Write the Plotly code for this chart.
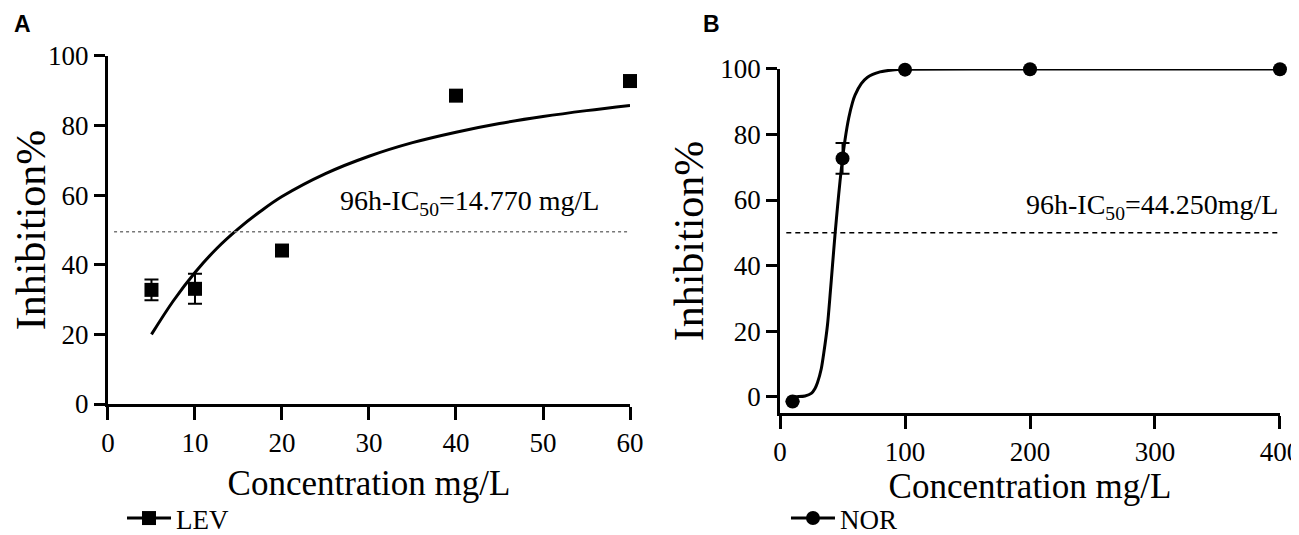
import plotly.graph_objects as go

# LEV data (panel A)
lev_conc = [5, 10, 20, 40, 60]
lev_inhib = [32.8, 33.1, 44.1, 88.6, 92.8]
lev_err = [3.0, 4.3, 0, 0, 0]
lev_fit_x = [5, 7.5, 10, 12.5, 15, 17.5, 20, 25, 30, 35, 40, 45, 50, 55, 60]
lev_fit_y = [20.0, 29.6, 37.8, 44.7, 50.4, 55.3, 59.6, 66.2, 71.2, 75.1, 78.1, 80.6, 82.6, 84.3, 85.8]

# NOR data (panel B)
nor_conc = [10, 50, 100, 200, 400]
nor_inhib = [-1.5, 72.7, 99.8, 99.9, 99.9]
nor_err = [0, 4.7, 0, 0, 0]
nor_fit_x = [10, 15, 20, 25, 28, 30, 33, 35, 38, 40, 42, 44, 46, 48, 50, 52, 55, 58, 60, 65, 70, 80, 90, 100, 200, 400]
nor_fit_y = [0.0, 0.0, 0.2, 1.0, 2.5, 4.3, 8.5, 13.3, 22.0, 30.8, 40.2, 49.5, 58.0, 65.8, 72.6, 78.4, 85.1, 89.8, 92.0, 95.5, 97.5, 99.1, 99.7, 99.9, 100, 100]

serif = "Liberation Serif"
fig = go.Figure()

# Panel A
fig.add_trace(go.Scatter(x=lev_fit_x, y=lev_fit_y, mode="lines", line=dict(color="black", width=3, shape="spline"),
                         showlegend=False, xaxis="x", yaxis="y", hoverinfo="skip"))
fig.add_trace(go.Scatter(x=lev_conc, y=lev_inhib, mode="markers", showlegend=False,
                         marker=dict(symbol="square", size=14, color="black"),
                         error_y=dict(type="data", array=lev_err, color="black", thickness=2, width=7),
                         cliponaxis=False, xaxis="x", yaxis="y"))
fig.add_trace(go.Scatter(x=[0.7, 60], y=[49.5, 49.5], mode="lines", line=dict(color="#777777", width=1.5, dash="dot"),
                         showlegend=False, xaxis="x", yaxis="y", hoverinfo="skip"))
# legend entry (line + symbol, as in the original)
fig.add_trace(go.Scatter(x=[None], y=[None], mode="lines+markers", name="LEV",
                         line=dict(color="black", width=3), marker=dict(symbol="square", size=14, color="black"),
                         xaxis="x", yaxis="y", legend="legend"))

# Panel B
fig.add_trace(go.Scatter(x=nor_fit_x, y=nor_fit_y, mode="lines", line=dict(color="black", width=3, shape="spline", smoothing=0.6),
                         showlegend=False, xaxis="x2", yaxis="y2", hoverinfo="skip"))
fig.add_trace(go.Scatter(x=nor_conc, y=nor_inhib, mode="markers", showlegend=False,
                         marker=dict(symbol="circle", size=14, color="black"),
                         error_y=dict(type="data", array=nor_err, color="black", thickness=2, width=7),
                         cliponaxis=False, xaxis="x2", yaxis="y2"))
fig.add_trace(go.Scatter(x=[5, 400], y=[50, 50], mode="lines", line=dict(color="black", width=1.5, dash="5px,4px"),
                         showlegend=False, xaxis="x2", yaxis="y2", hoverinfo="skip"))
fig.add_trace(go.Scatter(x=[None], y=[None], mode="lines+markers", name="NOR",
                         line=dict(color="black", width=3), marker=dict(symbol="circle", size=14, color="black"),
                         xaxis="x2", yaxis="y2", legend="legend2"))

title_font = dict(family=serif, size=42, color="black")
axis_style = dict(showline=True, linecolor="black", linewidth=3, ticks="outside", tickwidth=3,
                  tickcolor="black", showgrid=False, zeroline=False, automargin=False,
                  ticklabeloverflow="allow",
                  tickfont=dict(family=serif, size=27, color="black"))

fig.update_layout(
    width=1299, height=535,
    plot_bgcolor="white", paper_bgcolor="white",
    margin=dict(l=12, r=23, t=17, b=0),
    xaxis=dict(domain=[0.0696, 0.4826], range=[0, 60], tickvals=[0, 10, 20, 30, 40, 50, 60], anchor="y",
               ticklen=13, title=dict(text="Concentration mg/L", font=dict(family=serif, size=35, color="black"), standoff=14),
               **axis_style),
    yaxis=dict(domain=[0.2683, 0.9402], range=[0, 100], tickvals=[0, 20, 40, 60, 80, 100], anchor="x",
               ticklen=11, title=dict(text="Inhibition%", font=title_font, standoff=2),
               **axis_style),
    xaxis2=dict(domain=[0.6013, 0.9968], range=[0, 400], tickvals=[0, 100, 200, 300, 400], anchor="y2",
                ticklen=13, title=dict(text="Concentration mg/L", font=dict(family=serif, size=35, color="black"), standoff=5),
                **axis_style),
    yaxis2=dict(domain=[0.2510, 0.9151], range=[-5, 100], tickvals=[0, 20, 40, 60, 80, 100], anchor="x2",
                ticklen=11, title=dict(text="Inhibition%", font=title_font, standoff=4),
                **axis_style),
    legend=dict(x=0.0807, y=0, xanchor="left", yanchor="bottom", itemwidth=44,
                bgcolor="rgba(0,0,0,0)", font=dict(family=serif, size=27, color="black")),
    legend2=dict(x=0.606, y=0, xanchor="left", yanchor="bottom", itemwidth=44,
                 bgcolor="rgba(0,0,0,0)", font=dict(family=serif, size=27, color="black")),
    annotations=[
        dict(text="<b>A</b>", x=-0.006, y=1.03, xref="paper", yref="paper", xanchor="left", yanchor="top",
             showarrow=False, font=dict(family="Liberation Sans", size=23, color="black")),
        dict(text="<b>B</b>", x=0.539, y=1.03, xref="paper", yref="paper", xanchor="left", yanchor="top",
             showarrow=False, font=dict(family="Liberation Sans", size=23, color="black")),
        dict(text="96h-IC<sub>50</sub>=14.770 mg/L", x=41.6, y=58, xref="x", yref="y", showarrow=False,
             font=dict(family=serif, size=28, color="black")),
        dict(text="96h-IC<sub>50</sub>=44.250mg/L", x=298, y=58, xref="x2", yref="y2", showarrow=False,
             font=dict(family=serif, size=28, color="black")),
    ],
)

fig.write_html("out.html")
